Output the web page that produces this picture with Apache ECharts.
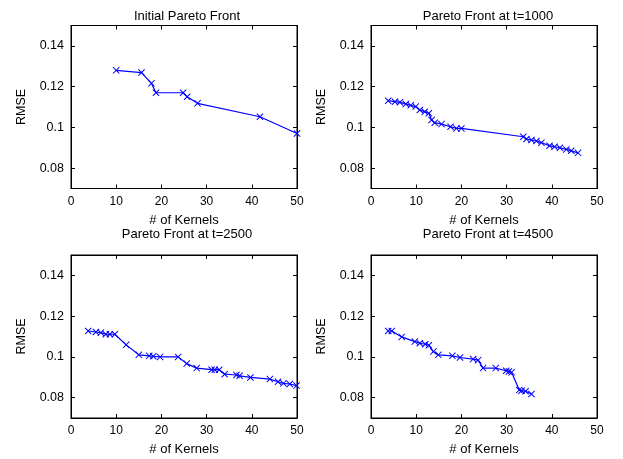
<!DOCTYPE html>
<html><head><meta charset="utf-8">
<script src="https://cdn.jsdelivr.net/npm/echarts@6/dist/echarts.min.js"></script>
<style>html,body{margin:0;padding:0;background:#fff}#c{width:623px;height:459px}</style>
</head><body><div id="c"></div>
<script>
const titles = ['Initial Pareto Front','Pareto Front at t=1000','Pareto Front at t=2500','Pareto Front at t=4500'];
const xTicks = [0,10,20,30,40,50];
const yTicks = [0.08,0.10,0.12,0.14];
const xName = '# of Kernels';
const yName = 'RMSE';

const k1 = [10,15.6,17.8,18.8,24.8,25.7,28,41.8,50];
const r1 = [0.128,0.1269,0.1216,0.117,0.117,0.115,0.1118,0.1052,0.097];

const k2 = [3.8,5.3,6.4,7.7,8.8,9.9,10.8,11.9,12.8,13.4,14.1,15.6,17.6,18.9,20,33.7,34.4,35.5,36.6,37.7,39.5,40.6,41.8,43.2,44.3,45.8];
const r2 = [0.1131,0.1126,0.1123,0.1115,0.1108,0.1102,0.1085,0.1077,0.1069,0.1036,0.1023,0.1016,0.1003,0.0995,0.0995,0.0954,0.0943,0.0938,0.0933,0.0925,0.0910,0.0905,0.0900,0.0892,0.0885,0.0875];

const k3 = [3.8,5.5,6.6,7.7,8.6,9.7,12.2,15,17.3,18.2,19.7,23.7,25.6,27.8,31.1,31.8,32.8,34,36.6,37.3,39.7,44,45.8,47,48.4,49.9];
const r3 = [0.1127,0.1122,0.1119,0.1111,0.1111,0.1111,0.1059,0.1010,0.1005,0.1003,0.1,0.1,0.0967,0.0945,0.0937,0.0937,0.0937,0.0915,0.0911,0.0907,0.0899,0.0891,0.0878,0.0870,0.0867,0.0859];

const k4 = [3.8,4.6,6.8,9.7,10.8,12,12.8,13.8,14.9,18,19.7,22.6,23.7,24.8,27.6,29.9,30.5,31.1,32.8,33.3,34.2,35.5];
const r4 = [0.1127,0.1127,0.1098,0.1075,0.1067,0.1062,0.1057,0.1026,0.1010,0.1005,0.0997,0.0989,0.0984,0.0945,0.0945,0.0932,0.0928,0.0924,0.0837,0.0834,0.0831,0.0818];

const series = [[k1,r1],[k2,r2],[k3,r3],[k4,r4]];

const grids = [
  {left:71, right:326, top:25.5, bottom:270.5},
  {left:371, right:26, top:25.5, bottom:270.5},
  {left:71, right:326, top:255, bottom:41},
  {left:371, right:26, top:255, bottom:41}
];
const FONT = 'Liberation Sans';
const xSym = 'path://M0,1 L1,0 L5,4 L9,0 L10,1 L6,5 L10,9 L9,10 L5,6 L1,10 L0,9 L4,5 Z';

const option = {
  backgroundColor:'#fff',
  animation:false,
  textStyle:{fontFamily:FONT},
  title: titles.map((t,i)=>({
    text:t,
    left: (i%2===0? 182 : 483),
    top: (i<2? 5 : 223),
    textAlign:'center',
    textStyle:{fontFamily:FONT,fontSize:13,fontWeight:'normal',color:'#000'}
  })),
  grid: grids.map(g=>Object.assign({containLabel:false,show:true,borderColor:'#000',borderWidth:1,backgroundColor:'transparent'},g)),
  xAxis: [],
  yAxis: [],
  series: []
};
const axisLine = {show:true,onZero:false,lineStyle:{color:'#000',width:1}};
for (let i=0;i<4;i++){
  option.xAxis.push({
    type:'value', gridIndex:i, min:0, max:50, position:'bottom',
    name:xName, nameLocation:'middle', nameGap:25,
    nameTextStyle:{fontFamily:FONT,fontSize:13,color:'#000'},
    axisLine:axisLine,
    axisTick:{show:true,inside:true,length:4,customValues:xTicks,lineStyle:{color:'#000'}},
    axisLabel:{show:true,customValues:xTicks,color:'#000',fontFamily:FONT,fontSize:12,margin:7},
    splitLine:{show:false}
  });
  option.xAxis.push({
    type:'value', gridIndex:i, min:0, max:50, position:'top',
    axisLine:axisLine,
    axisTick:{show:true,inside:true,length:4,customValues:xTicks,lineStyle:{color:'#000'}},
    axisLabel:{show:false},
    splitLine:{show:false}
  });
  option.yAxis.push({
    type:'value', gridIndex:i, min:0.07, max:0.15, position:'left',
    name:yName, nameLocation:'middle', nameGap:43, nameRotate:90,
    nameTextStyle:{fontFamily:FONT,fontSize:12.5,color:'#000'},
    axisLine:axisLine,
    axisTick:{show:true,inside:true,length:4,customValues:yTicks,lineStyle:{color:'#000'}},
    axisLabel:{show:true,customValues:yTicks,color:'#000',fontFamily:FONT,fontSize:12.5,margin:7,
      formatter:v=>String(Math.round(v*100)/100)},
    splitLine:{show:false}
  });
  option.yAxis.push({
    type:'value', gridIndex:i, min:0.07, max:0.15, position:'right',
    axisLine:axisLine,
    axisTick:{show:true,inside:true,length:4,customValues:yTicks,lineStyle:{color:'#000'}},
    axisLabel:{show:false},
    splitLine:{show:false}
  });
  const [k,r] = series[i];
  option.series.push({
    type:'line', xAxisIndex:i*2, yAxisIndex:i*2,
    data:k.map((x,j)=>[x,r[j]]),
    symbol:xSym, symbolSize:7, showSymbol:true,
    lineStyle:{color:'#0000ff',width:1.2},
    itemStyle:{color:'#0000ff'},
    clip:false
  });
}
echarts.init(document.getElementById('c'),null,{renderer:'canvas'}).setOption(option);
</script></body></html>
